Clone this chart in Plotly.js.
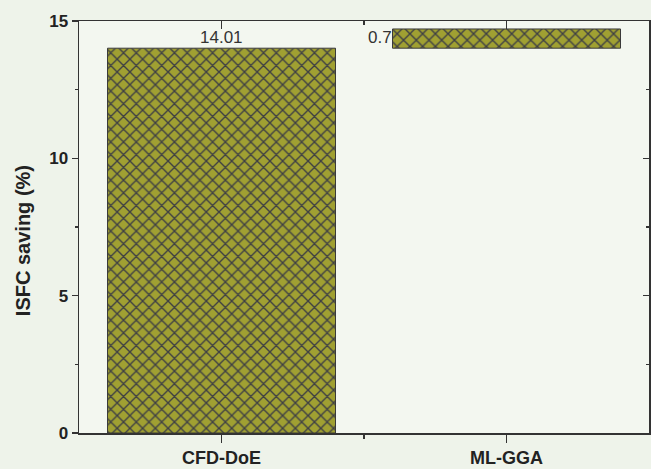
<!DOCTYPE html>
<html>
<head>
<meta charset="utf-8">
<script src="https://cdn.plot.ly/plotly-3.0.1.min.js"></script>
<style>html,body{margin:0;padding:0;background:#eef3ea;}#chart{width:651px;height:469px;}</style>
</head>
<body>
<div id="chart"></div>
<script>
const categories = ["CFD-DoE", "ML-GGA"];
const savings = [14.01, 0.7];
const labels = ["14.01", "0.7"];
const yTicks = [0, 5, 10, 15];
const yTitle = "ISFC saving (%)";

const idx = categories.map((c, i) => i);
const bases = [];
let acc = 0;
savings.forEach(v => { bases.push(acc); acc += v; });
const barWidth = 0.8;

const axisColor = '#333333';
const fontFam = 'Liberation Sans, Arial, sans-serif';

const trace = {
  type: 'bar',
  x: idx,
  y: savings,
  base: bases,
  width: barWidth,
  marker: {
    color: '#9c9c30',
    line: {color: '#3a3a3a', width: 1},
    pattern: {shape: 'x', fgcolor: '#3e3f44', bgcolor: '#a0a032', size: 9, solidity: 0.28}
  },
  hoverinfo: 'none',
  showlegend: false
};

const annotations = [
  {x: idx[0], y: bases[0] + savings[0], text: labels[0], showarrow: false,
   xanchor: 'center', yanchor: 'bottom', yshift: -1,
   font: {family: fontFam, size: 17, color: '#333'}},
  {x: idx[1] - barWidth / 2, y: bases[1] + savings[1] / 2, text: labels[1], showarrow: false,
   xanchor: 'right', yanchor: 'middle', yshift: 1, xshift: 1,
   font: {family: fontFam, size: 17, color: '#333'}},
  {xref: 'paper', yref: 'paper', x: -0.098, y: 0.466, text: '<b>' + yTitle + '</b>', showarrow: false,
   textangle: -90, xanchor: 'center', yanchor: 'middle',
   font: {family: fontFam, size: 20, color: '#222'}}
];

const layout = {
  width: 651, height: 469,
  paper_bgcolor: '#eef3ea',
  plot_bgcolor: '#f3f7f0',
  margin: {l: 79, r: 2, t: 21, b: 36},
  showlegend: false,
  font: {family: fontFam, color: '#222'},
  xaxis: {
    type: 'linear', range: [-0.5, 1.5],
    tickmode: 'array', tickvals: idx, ticktext: categories.map(c => '<b>' + c + '</b>'),
    ticks: 'outside', ticklen: 8, tickwidth: 1.5, tickcolor: axisColor,
    minor: {tickmode: 'array', tickvals: [0.5], ticks: 'outside', ticklen: 4, tickwidth: 1.5, tickcolor: axisColor},
    showline: true, linecolor: axisColor, linewidth: 1.5,
    showgrid: false, zeroline: false,
    tickfont: {family: fontFam, size: 18, color: '#222'}
  },
  xaxis2: {
    type: 'linear', range: [-0.5, 1.5], overlaying: 'x', side: 'top', anchor: 'y',
    tickmode: 'array', tickvals: idx, showticklabels: false,
    ticks: 'inside', ticklen: 8, tickwidth: 1.5, tickcolor: axisColor,
    minor: {tickmode: 'array', tickvals: [0.5], ticks: 'inside', ticklen: 4, tickwidth: 1.5, tickcolor: axisColor},
    showline: true, linecolor: axisColor, linewidth: 1.5,
    showgrid: false, zeroline: false
  },
  yaxis: {
    range: [0, 15],
    tickmode: 'array', tickvals: yTicks, ticktext: yTicks.map(t => '<b>' + t + '</b>'),
    ticks: 'outside', ticklen: 6, tickwidth: 1.5, tickcolor: axisColor,
    minor: {dtick: 2.5, ticks: 'outside', ticklen: 3, tickwidth: 1.5, tickcolor: axisColor},
    showline: true, linecolor: axisColor, linewidth: 1.5,
    showgrid: false, zeroline: false,
    tickfont: {family: fontFam, size: 17, color: '#222'}
  },
  yaxis2: {
    range: [0, 15], overlaying: 'y', side: 'right', anchor: 'x',
    tickmode: 'array', tickvals: yTicks, showticklabels: false,
    ticks: 'inside', ticklen: 6, tickwidth: 1.5, tickcolor: axisColor,
    minor: {dtick: 2.5, ticks: 'inside', ticklen: 3, tickwidth: 1.5, tickcolor: axisColor},
    showline: true, linecolor: axisColor, linewidth: 1.5,
    showgrid: false, zeroline: false
  },
  annotations: annotations
};

const dummy = {type: 'scatter', x: [], y: [], xaxis: 'x2', yaxis: 'y2', showlegend: false, hoverinfo: 'none'};

Plotly.newPlot('chart', [trace, dummy], layout, {displayModeBar: false, staticPlot: true});
</script>
</body>
</html>
